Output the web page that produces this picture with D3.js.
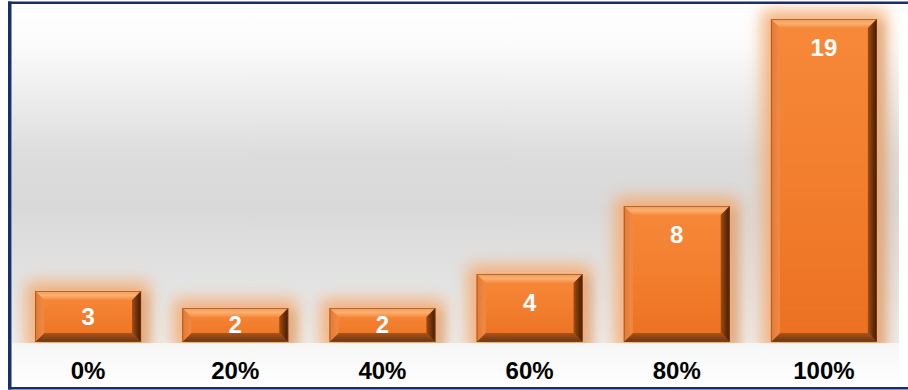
<!DOCTYPE html>
<html>
<head>
<meta charset="utf-8">
<script src="https://cdn.jsdelivr.net/npm/d3@7"></script>
<style>
  html, body { margin: 0; padding: 0; background: #ffffff; }
  svg { display: block; }
</style>
</head>
<body>
<svg id="chart" width="908" height="390"></svg>
<script>
// Share of completion and how many items fall in each bucket
const categories = ["0%", "20%", "40%", "60%", "80%", "100%"];
const counts = [3, 2, 2, 4, 8, 19];

const W = 908, H = 390;
const plot = { left: 12, top: 4, right: 899, bottom: 343 };
const baseY = 342;

const svg = d3.select("#chart");
const defs = svg.append("defs");

// Backdrop gradient: white at the top, grey in the middle, lighter near the base
const bg = defs.append("linearGradient").attr("id", "bgGrad")
  .attr("x1", 0).attr("y1", 0).attr("x2", 0).attr("y2", 1);
[[0, "#ffffff"], [0.12, "#fbfbfb"], [0.45, "#dcdcdc"], [0.6, "#d9d9d9"], [0.85, "#e4e4e4"], [1, "#ececec"]]
  .forEach(([o, c]) => bg.append("stop").attr("offset", o).attr("stop-color", c));

const lab = defs.append("linearGradient").attr("id", "labGrad")
  .attr("x1", 0).attr("y1", 0).attr("x2", 0).attr("y2", 1);
[[0, "#f6f6f6"], [1, "#ffffff"]]
  .forEach(([o, c]) => lab.append("stop").attr("offset", o).attr("stop-color", c));

// Bar face and bevel gradients
function vGrad(id, stops, horizontal) {
  const g = defs.append("linearGradient").attr("id", id)
    .attr("x1", 0).attr("y1", 0).attr("x2", horizontal ? 1 : 0).attr("y2", horizontal ? 0 : 1);
  stops.forEach(([o, c]) => g.append("stop").attr("offset", o).attr("stop-color", c));
}
vGrad("faceGrad", [[0, "#f7893a"], [0.5, "#f27e2e"], [1, "#ec7022"]]);
vGrad("topGrad", [[0, "#f59a58"], [0.5, "#fbb070"], [1, "#f68a3e"]]);
vGrad("bottomGrad", [[0, "#a9541a"], [1, "#6d3410"]]);
vGrad("leftGrad", [[0, "#e47a34"], [1, "#f08a44"]], true);
vGrad("rightGrad", [[0, "#a04c14"], [1, "#3e1a04"]], true);

const glow = defs.append("filter").attr("id", "glow")
  .attr("x", "-50%").attr("y", "-50%").attr("width", "200%").attr("height", "200%");
glow.append("feGaussianBlur").attr("stdDeviation", 8);

const shadow = defs.append("filter").attr("id", "shadow")
  .attr("x", "-50%").attr("y", "-50%").attr("width", "200%").attr("height", "200%");
shadow.append("feGaussianBlur").attr("stdDeviation", 4);

// Backgrounds
svg.append("rect").attr("x", plot.left).attr("y", plot.top)
  .attr("width", plot.right - plot.left).attr("height", plot.bottom - plot.top)
  .attr("fill", "url(#bgGrad)");
svg.append("rect").attr("x", plot.left).attr("y", plot.bottom)
  .attr("width", plot.right - plot.left).attr("height", 387 - plot.bottom)
  .attr("fill", "url(#labGrad)");

// Scales
const x = d3.scaleBand().domain(categories).range([14.5, 897.5]).paddingInner(0.28).paddingOuter(0.14);
const y = d3.scaleLinear().domain([0, 19]).range([baseY, 19]);

const data = categories.map((c, i) => ({ cat: c, value: counts[i] }));

// Clip so glow and shadow stay inside the plotting area
defs.append("clipPath").attr("id", "plotClip").append("rect")
  .attr("x", plot.left).attr("y", plot.top)
  .attr("width", plot.right - plot.left).attr("height", plot.bottom - plot.top);

const marks = svg.append("g").attr("clip-path", "url(#plotClip)");

const bars = marks.selectAll("g.bar").data(data).join("g").attr("class", "bar");

// Grey drop shadow to the right
bars.append("rect")
  .attr("x", d => x(d.cat) + 7).attr("y", d => y(d.value) + 4)
  .attr("width", x.bandwidth()).attr("height", d => baseY - y(d.value))
  .attr("fill", "#8a8a8a").attr("opacity", 0.5).attr("filter", "url(#shadow)");

// Soft orange glow
bars.append("rect")
  .attr("x", d => x(d.cat) - 9).attr("y", d => y(d.value) - 9)
  .attr("width", x.bandwidth() + 18).attr("height", d => baseY - y(d.value) + 18)
  .attr("fill", "#f5aa70").attr("opacity", 0.9).attr("filter", "url(#glow)");

const b = 9;
function bevel(d) {
  const x0 = x(d.cat), x1 = x0 + x.bandwidth();
  const y0 = y(d.value), y1 = baseY;
  return { x0, x1, y0, y1 };
}

bars.append("rect")
  .attr("x", d => x(d.cat)).attr("y", d => y(d.value))
  .attr("width", x.bandwidth()).attr("height", d => baseY - y(d.value))
  .attr("fill", "url(#faceGrad)");

// Bevel edges
bars.append("polygon").attr("fill", "url(#topGrad)").attr("points", d => {
  const { x0, x1, y0 } = bevel(d);
  return [[x0, y0], [x1, y0], [x1 - b, y0 + b], [x0 + b, y0 + b]].join(" ");
});
bars.append("polygon").attr("fill", "url(#bottomGrad)").attr("points", d => {
  const { x0, x1, y1 } = bevel(d);
  return [[x0 + b, y1 - b], [x1 - b, y1 - b], [x1, y1], [x0, y1]].join(" ");
});
bars.append("polygon").attr("fill", "url(#leftGrad)").attr("points", d => {
  const { x0, y0, y1 } = bevel(d);
  return [[x0, y0], [x0 + b, y0 + b], [x0 + b, y1 - b], [x0, y1]].join(" ");
});
bars.append("polygon").attr("fill", "url(#rightGrad)").attr("points", d => {
  const { x1, y0, y1 } = bevel(d);
  return [[x1, y0], [x1, y1], [x1 - b, y1 - b], [x1 - b, y0 + b]].join(" ");
});
bars.append("rect")
  .attr("x", d => x(d.cat) + 0.5).attr("y", d => y(d.value) + 0.5)
  .attr("width", x.bandwidth() - 1).attr("height", d => baseY - y(d.value) - 1)
  .attr("fill", "none").attr("stroke", "#8a4414").attr("stroke-width", 1).attr("opacity", 0.6);

// Value labels inside the bars
svg.append("g").selectAll("text").data(data).join("text")
  .attr("x", d => x(d.cat) + x.bandwidth() / 2)
  .attr("y", d => {
    const top = y(d.value);
    return Math.min(top + 37, (top + baseY) / 2 + 8);
  })
  .attr("text-anchor", "middle")
  .attr("font-family", "Liberation Sans, Arial, sans-serif")
  .attr("font-weight", "bold").attr("font-size", 24)
  .attr("fill", "#ffffff")
  .text(d => d.value);

// Category axis
const axis = svg.append("g").attr("transform", `translate(0,${baseY})`)
  .call(d3.axisBottom(x).tickSize(0).tickPadding(0));
axis.select(".domain").remove();
axis.selectAll("text")
  .attr("y", 37).attr("dy", 0)
  .attr("font-family", "Liberation Sans, Arial, sans-serif")
  .attr("font-weight", "bold").attr("font-size", 24)
  .attr("fill", "#000000");

// Frame lines
svg.append("rect").attr("x", 8).attr("y", 1.5).attr("width", W - 8).attr("height", 2.5).attr("fill", "#15306a");
svg.append("rect").attr("x", 8).attr("y", 1.5).attr("width", 3.5).attr("height", 388).attr("fill", "#15306a");
svg.append("rect").attr("x", 8).attr("y", 387).attr("width", W - 8).attr("height", 2.5).attr("fill", "#15306a");
</script>
</body>
</html>
